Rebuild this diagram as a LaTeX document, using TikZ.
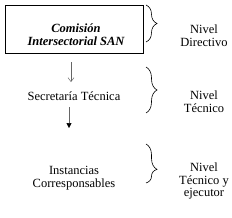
\documentclass[tikz,border=0pt]{standalone}
\usepackage{fontspec}
\setmainfont{Liberation Serif}
\usetikzlibrary{arrows.meta,decorations.pathreplacing}
\begin{document}
\begin{tikzpicture}[x=1pt,y=-1pt,
  txt/.style={font=\fontsize{12.5}{12.8}\selectfont, align=center, inner sep=0pt},
  brc/.style={draw, line width=0.6pt, decorate, decoration={brace, amplitude=11pt}},
  arr/.style={line width=0.5pt, draw=black!60}]
\useasboundingbox (0,0) rectangle (232,217);
\node[draw, line width=0.6pt, minimum width=138pt, minimum height=48pt, inner sep=0pt] (csan) at (74,29) {};
\node[txt, font=\fontsize{12.5}{12.8}\selectfont\bfseries\itshape] (csantxt) at (76,35)
      {Comisión\\Intersectorial SAN};
\node[txt] (sec) at (74,96) {Secretaría Técnica};
\node[txt] (inst) at (74,178.5) {Instancias\\Corresponsables};
\node[txt] (n1) at (204,36) {Nivel\\Directivo};
\node[txt] (n2) at (204,102) {Nivel\\Técnico};
\node[txt] (n3) at (204,181) {Nivel\\Técnico y\\ejecutor};
\coordinate (b1t) at (146,5); \coordinate (b1b) at (146,42);
\coordinate (b2t) at (146,67); \coordinate (b2b) at (146,113);
\coordinate (b3t) at (146,144); \coordinate (b3b) at (146,183);
\draw[brc] (b1t) -- (b1b);
\draw[brc] (b2t) -- (b2b);
\draw[brc, decoration={aspect=0.65}] (b3t) -- (b3b);
\coordinate (a1s) at (71,62); \coordinate (a1e) at (71,82);
\coordinate (a2s) at (69,107); \coordinate (a2e) at (69,128);
\draw[arr, -{Straight Barb[length=4pt,width=6pt]}] (a1s) -- (a1e);
\draw[arr, -{Triangle[length=5pt,width=5pt,black]}] (a2s) -- (a2e);
\end{tikzpicture}
\end{document}
